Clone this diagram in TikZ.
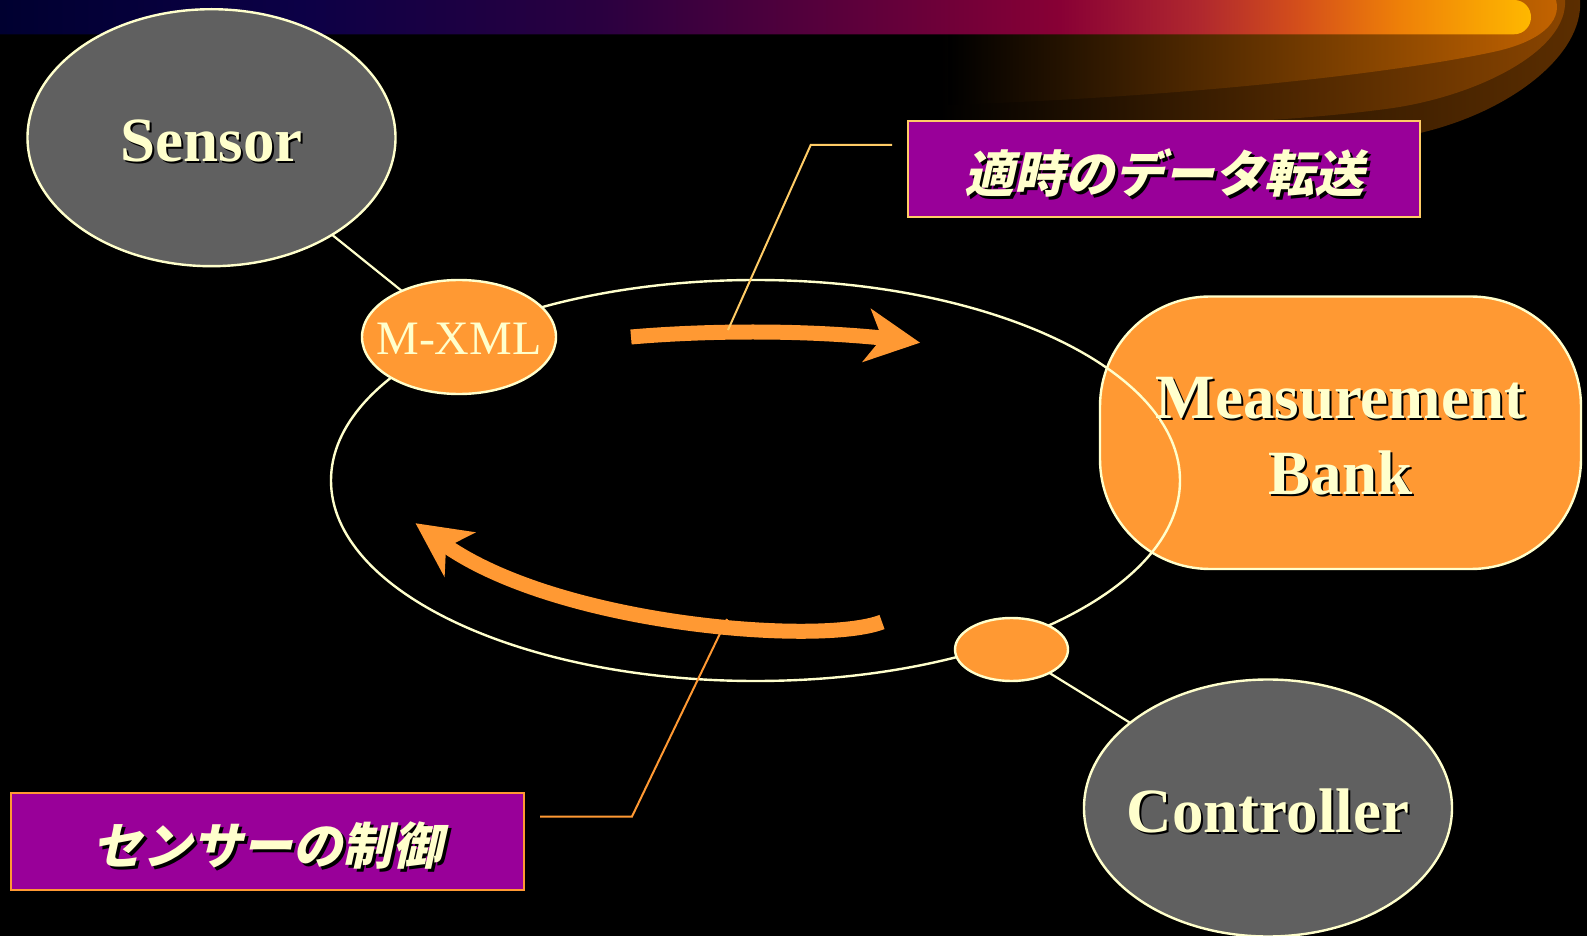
\documentclass[tikz,border=0pt]{standalone}
\usepackage{fontspec}
\setmainfont{Liberation Serif}
\newfontfamily\jpfont{Noto Sans CJK JP}[FakeSlant=0.22]
\usetikzlibrary{shapes.geometric}

\definecolor{cream}{HTML}{FFFFCC}
\definecolor{orng}{HTML}{FF9933}
\definecolor{lorng}{HTML}{FFCC66}
\definecolor{grayfill}{HTML}{606060}
\definecolor{purp}{HTML}{990099}
\definecolor{bnA}{HTML}{000030}
\definecolor{bnB}{HTML}{0C0046}
\definecolor{bnC}{HTML}{2A0040}
\definecolor{bnD}{HTML}{66003A}
\definecolor{bnE}{HTML}{880035}
\definecolor{bnF}{HTML}{B0282E}
\definecolor{bnG}{HTML}{D5501A}
\definecolor{bnH}{HTML}{EE8008}
\definecolor{bnI}{HTML}{FFB800}
\definecolor{swA}{HTML}{C46400}
\definecolor{swB}{HTML}{8A4500}
\definecolor{swC}{HTML}{5C2E00}

\pgfdeclarehorizontalshading{bannershade}{100bp}{color(0bp)=(bnA); color(25bp)=(bnA); color(34.8bp)=(bnB); color(44.6bp)=(bnC); color(54.4bp)=(bnD); color(59.6bp)=(bnE); color(64.2bp)=(bnF); color(67.5bp)=(bnG); color(70.7bp)=(bnH); color(75bp)=(bnI); color(100bp)=(bnI)}

\newcommand\shd[2][1pt]{\leavevmode\rlap{\kern#1\raisebox{-#1}{\color{black}#2}}{\color{cream}#2}}

\begin{document}
\begin{tikzpicture}[x=0.5pt,y=-0.5pt,
  elln/.style={ellipse, draw=cream, line width=1.2pt, inner sep=0pt, outer sep=0pt},
  bigtext/.style={font=\bfseries\fontsize{31.5}{38}\selectfont, text=cream, align=center, yshift=-2pt},
  bignode/.style={elln, fill=grayfill, minimum width=184pt, minimum height=128.5pt},
  orngnode/.style={elln, fill=orng},
  jptext/.style={font=\jpfont\bfseries\fontsize{25}{30}\selectfont, text=cream, yshift=-2.5pt},
  jpbox/.style={rectangle, fill=purp, line width=1.25pt, inner sep=0pt},
  link/.style={draw=cream, line width=1.1pt},
  callout/.style={line width=1pt},
  fatline/.style={draw=orng, line width=7.5pt},
  arrowhead/.style={fill=orng},
]
% background
\fill[black] (0,0) rectangle (1587,936);
\useasboundingbox (0,0) rectangle (1587,936);

% swoosh
\shade[left color=black, right color=swC]
  (940,0) -- (1580,0) .. controls (1584,55) and (1510,112) .. (1420,133)
  .. controls (1300,160) and (1100,170) .. (940,170) -- cycle;
\shade[left color=black, right color=swB]
  (940,0) -- (1565,0) .. controls (1568,50) and (1480,95) .. (1393,108)
  .. controls (1250,128) and (1050,128) .. (940,125) -- cycle;
\shade[left color=black, right color=swA]
  (948,0) -- (1556,0) .. controls (1562,22) and (1540,42) .. (1493,52)
  .. controls (1400,72) and (1200,96) .. (948,105) -- cycle;
% banner
\shade[shading=bannershade]
  (0,0) -- (1514,0) .. controls (1524,0) and (1531,8) .. (1531,17.2)
  .. controls (1531,26) and (1524,34.3) .. (1514,34.3) -- (0,34.3) -- cycle;

% nodes
\node[bignode, label={[bigtext]center:\shd{Sensor}}] (sensor) at (211.5,137.7) {};
\node[rectangle, rounded corners=55pt, fill=orng, draw=cream, line width=1.2pt,
      minimum width=240.5pt, minimum height=136.25pt, inner sep=0pt,
      label={[bigtext]center:\shd{Measurement}\\\shd{Bank}}]
      (bank) at (1340.5,432.75) {};
\node[elln, minimum width=424.5pt, minimum height=200.5pt] (loop) at (755.5,480.5) {};
\node[orngnode, minimum width=97pt, minimum height=57pt,
      label={[font=\fontsize{24}{28}\selectfont, text=cream, yshift=-1pt]center:M-XML}]
      (mxml) at (459,337) {};
\node[orngnode, minimum width=56.5pt, minimum height=31.5pt] (small) at (1011.5,649.5) {};
\node[bignode, label={[bigtext]center:\shd{Controller}}] (ctrl) at (1268,808) {};

% connectors
\draw[link] (sensor) -- (mxml);
\draw[link] (small) -- (ctrl);

% flow arrows
\coordinate (ta0) at (631,337);
\coordinate (ta1) at (892,339);
\draw[fatline] (ta0) .. controls (700,331) and (800,329) .. (ta1);
\fill[arrowhead] (920,342.7) -- (870.5,308.3) -- (882,338) -- (862,362.3) -- cycle;

\coordinate (ba0) at (882,622);
\coordinate (ba1) at (438,540);
\draw[fatline] (ba0) .. controls (820,646) and (550,625) .. (ba1);
\fill[arrowhead] (415.6,523.3) -- (475.9,532.3) -- (446,547.5) -- (444.6,577.3) -- cycle;

% label boxes
\node[jpbox, draw=lorng, minimum width=256pt, minimum height=48pt,
      label={[jptext]center:\shd[1.5pt]{適時のデータ転送}}] (lab1) at (1164,169) {};
\node[jpbox, draw=orng, minimum width=256.5pt, minimum height=48.5pt,
      label={[jptext]center:\shd[1.5pt]{センサーの制御}}] (lab2) at (267.5,841.5) {};

% callout lines
\coordinate (c1a) at (892,145);
\coordinate (c1b) at (810.7,145);
\coordinate (c1c) at (728,330);
\draw[callout, draw=lorng] (c1a) -- (c1b) -- (c1c);
\coordinate (c2a) at (540,816.5);
\coordinate (c2b) at (632,816.5);
\coordinate (c2c) at (727,619);
\draw[callout, draw=orng] (c2a) -- (c2b) -- (c2c);
\end{tikzpicture}
\end{document}
